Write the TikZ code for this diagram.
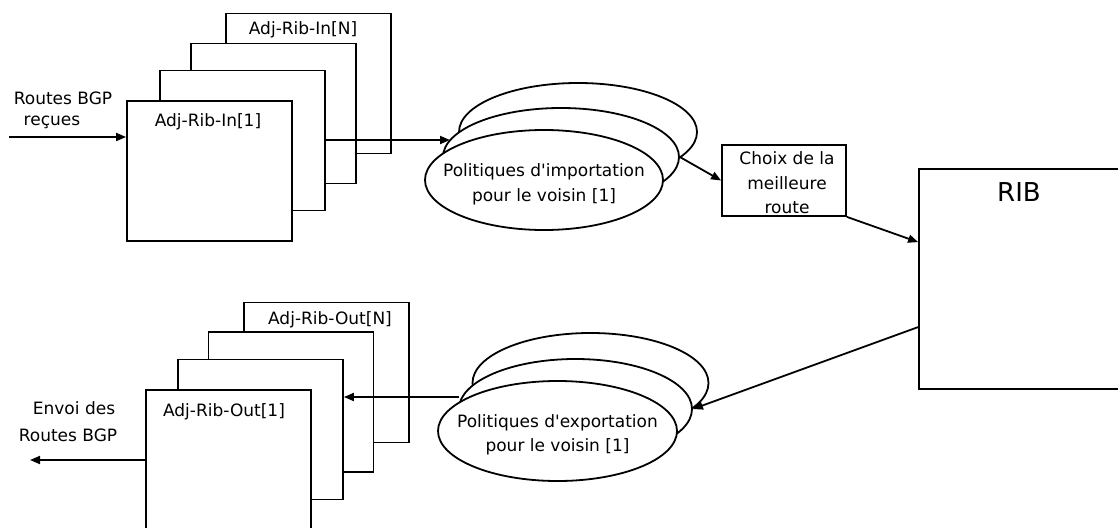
\documentclass[tikz,border=0pt]{standalone}
\usepackage{fontspec}
\setmainfont{DejaVu Sans}
\usetikzlibrary{shapes.geometric,arrows.meta}

\begin{document}
\begin{tikzpicture}[x=1pt,y=-1pt,
  line width=1.8pt,
  txt/.style={font=\fontsize{17}{24.5}\selectfont,inner sep=0pt,align=center},
  ribbox/.style={draw,fill=white,rectangle,inner sep=0pt,minimum width=165pt,minimum height=140pt},
  pol/.style={draw,fill=white,ellipse,inner sep=0pt},
  flow/.style={-{Triangle[length=10pt,width=8pt]}}]
\useasboundingbox (0,0) rectangle (1118,527);

% incoming Adj-Rib-In stack, drawn back to front
\node[ribbox] (inb4) at (308.5,83.5) {};
\node[ribbox] (inb3) at (273.5,113.5) {};
\node[ribbox] (inb2) at (242.5,140.5) {};
\node[ribbox] (inb1) at (209.5,171) {};
\node[txt] (inlN) at (303,30) {Adj-Rib-In[N]};
\node[txt] (inl1) at (208,122) {Adj-Rib-In[1]};

% outgoing Adj-Rib-Out stack
\node[ribbox] (outb4) at (326.5,372.5) {};
\node[ribbox] (outb3) at (291,402) {};
\node[ribbox] (outb2) at (260.5,429.5) {};
\node[ribbox,minimum height=150pt] (outb1) at (228.5,465) {};
\node[txt] (outlN) at (330,320) {Adj-Rib-Out[N]};
\node[txt] (outl1) at (224,412) {Adj-Rib-Out[1]};

% import policies
\node[pol,minimum width=238pt,minimum height=98pt] (imp3) at (578,132) {};
\node[pol,minimum width=236pt,minimum height=98pt] (imp2) at (561,157) {};
\node[pol,minimum width=238pt,minimum height=100pt] (imp1) at (544,180) {};
\node[txt] (imp1l) at (544,184.5) {Politiques d\textquotesingle importation\\pour le voisin [1]};

% export policies
\node[pol,minimum width=236pt,minimum height=100pt] (exp3) at (590.5,383) {};
\node[pol,minimum width=233pt,minimum height=100pt] (exp2) at (575.5,409) {};
\node[pol,minimum width=239pt,minimum height=100pt] (exp1) at (557.5,431) {};
\node[txt] (exp1l) at (557.5,435) {Politiques d\textquotesingle exportation\\pour le voisin [1]};

% best route selection
\node[draw,rectangle,inner sep=0pt,minimum width=124pt,minimum height=71pt] (choix) at (784,180.5) {};
\node[txt] (choixl) at (787,183) {Choix de la\\meilleure\\route};

% RIB (runs past the right edge)
\node[draw,rectangle,inner sep=0pt,minimum width=210pt,minimum height=220pt] (rib) at (1024,279) {};
\node[txt,font=\fontsize{26}{30}\selectfont] (ribl) at (1019,192) {RIB};

% side labels
\node[txt] (rcv1) at (63,98) {Routes BGP};
\node[txt] (rcv2) at (52,122) {reçues};
\node[txt] (snd1) at (74,408) {Envoi des};
\node[txt] (snd2) at (68,435) {Routes BGP};

% connector end points
\coordinate (insrc) at (9,137);
\coordinate (impin) at (450,140);
\coordinate (expout) at (459,397);
\coordinate (outdst) at (30,460);

% flows
\draw[flow] (insrc) -- (inb1.west |- insrc);
\draw[flow] (inb2.east |- impin) -- (impin);
\draw[flow] (imp2.east) -- (choix.west);
\draw[flow] (choix.south east) -- ([yshift=-74pt]rib.north west);
\draw[flow] ([yshift=-159pt]rib.north west) -- (exp2.east);
\draw[flow] (expout) -- (outb2.east |- expout);
\draw[flow] (outb1.west |- outdst) -- (outdst);
\end{tikzpicture}
\end{document}
